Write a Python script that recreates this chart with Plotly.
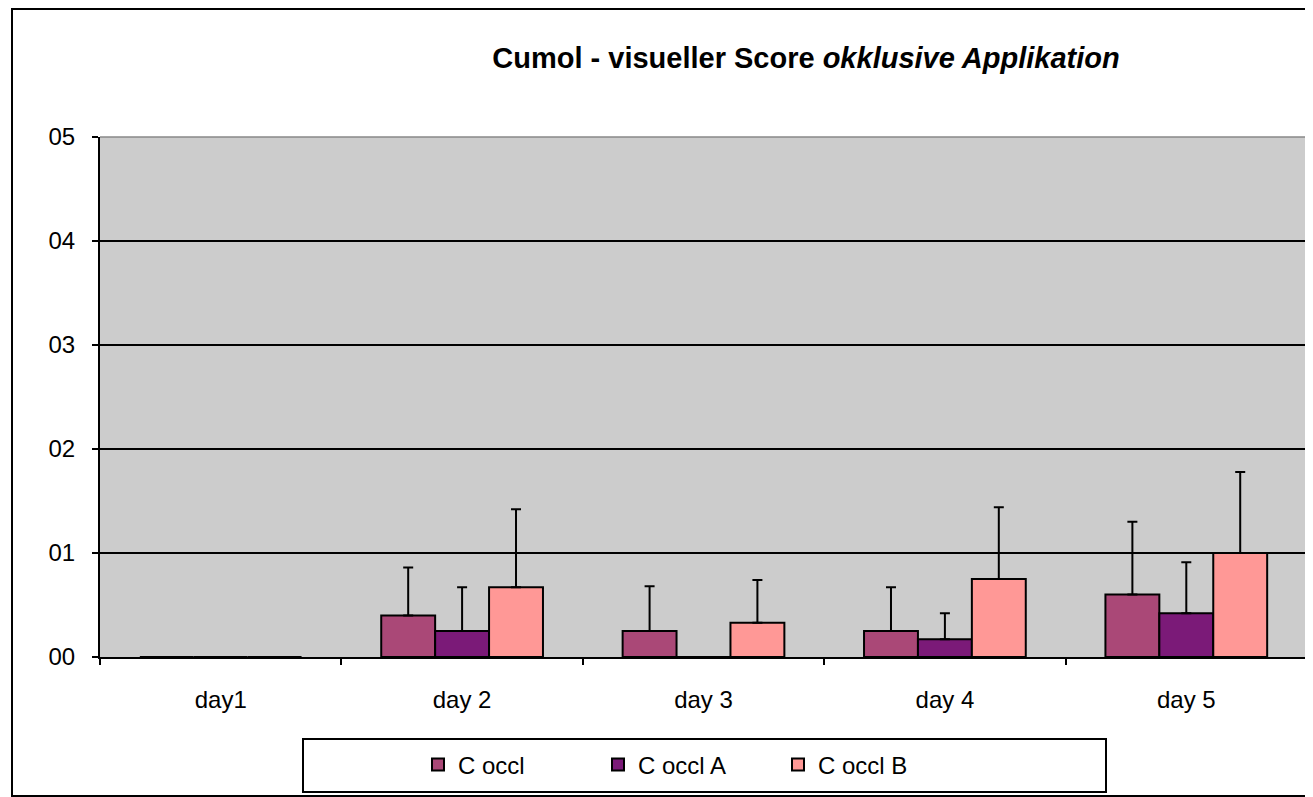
import plotly.graph_objects as go

dias = ['day1', 'day 2', 'day 3', 'day 4', 'day 5']
series = ['C occl', 'C occl A', 'C occl B']

c_occl = [0, 0.40, 0.25, 0.25, 0.60]
c_occl_err = [0, 0.46, 0.43, 0.42, 0.70]
c_occl_a = [0, 0.25, 0, 0.17, 0.42]
c_occl_a_err = [0, 0.42, 0, 0.25, 0.49]
c_occl_b = [0, 0.67, 0.33, 0.75, 1.00]
c_occl_b_err = [0, 0.75, 0.41, 0.69, 0.78]

ytick_vals = [0, 1, 2, 3, 4, 5]
ytick_text = ['00', '01', '02', '03', '04', '05']

colores = ['#AA4877', '#7B1A78', '#FF9896']

# la página tiene 8px de margen en el body
OFF = 8
W, H = 1305, 789
ML, MR, MT, MB = 100 - OFF, 6, 137 - OFF, 140
pw, ph = W - ML - MR, H - MT - MB


def px_x(p):
    return (p - OFF - ML) / pw


def px_y(p):
    return (H - MB - (p - OFF)) / ph


fig = go.Figure()
for nombre, vals, errs, col in zip(series,
                                   [c_occl, c_occl_a, c_occl_b],
                                   [c_occl_err, c_occl_a_err, c_occl_b_err],
                                   colores):
    fig.add_trace(go.Bar(
        x=dias, y=vals, name=nombre,
        marker=dict(color=col, line=dict(color='black', width=2)),
        error_y=dict(type='data', symmetric=False, array=errs,
                     arrayminus=[0] * len(errs),
                     color='black', thickness=2, width=5),
    ))

fig.update_layout(
    width=W, height=H,
    margin=dict(l=ML, r=MR, t=MT, b=MB),
    paper_bgcolor='white',
    plot_bgcolor='#CCCCCC',
    font=dict(family='Liberation Sans, Arial, sans-serif', size=24, color='black'),
    barmode='group',
    bargap=0.33,
    bargroupgap=0,
    title=dict(
        text='<b>Cumol - visueller Score <i>okklusive Applikation</i></b>',
        x=px_x(806), xref='paper', xanchor='center',
        y=1 - (58 - OFF) / H, yref='container', yanchor='middle',
        font=dict(size=29),
    ),
    showlegend=True,
    legend=dict(
        orientation='h', x=px_x(688), xanchor='center',
        y=px_y(765), yanchor='middle',
        entrywidth=135, font=dict(size=24),
        bgcolor='rgba(0,0,0,0)', traceorder='normal',
    ),
    xaxis=dict(
        showline=True, linecolor='black', linewidth=2,
        ticks='outside', tickson='boundaries', ticklen=6,
        tickcolor='black', tickwidth=1.5, showgrid=False,
        ticklabelstandoff=20,
    ),
    yaxis=dict(
        range=[0, 5], tickvals=ytick_vals, ticktext=ytick_text,
        showline=True, linecolor='black', linewidth=2,
        ticks='outside', ticklen=6, tickcolor='black', tickwidth=1.5,
        showgrid=True, gridcolor='black', gridwidth=1.5,
        zeroline=False, ticklabelstandoff=12,
    ),
    shapes=[
        dict(type='rect', xref='paper', yref='paper',
             x0=px_x(12), x1=px_x(1312), y0=px_y(796), y1=px_y(9),
             line=dict(color='black', width=2), layer='below'),
        dict(type='rect', xref='paper', yref='paper',
             x0=px_x(303), x1=px_x(1106), y0=px_y(792), y1=px_y(739),
             line=dict(color='black', width=2)),
        dict(type='line', xref='paper', yref='paper',
             x0=0, x1=1, y0=1, y1=1,
             line=dict(color='#888888', width=1.5)),
    ],
)

fig.write_html('out.html')
